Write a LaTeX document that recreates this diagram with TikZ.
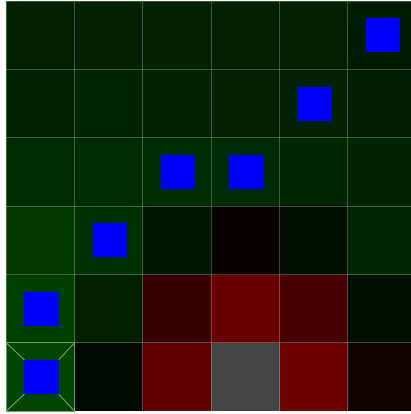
\documentclass[tikz,border=0pt]{standalone}
\tikzset{
  gridline/.style={draw=white, draw opacity=0.25, line width=1pt},
  agent/.style={fill=blue},
  selborder/.style={draw=white!70!green!60!black, line width=1pt},
}
\begin{document}
\begin{tikzpicture}[x=1pt,y=-1pt]
\useasboundingbox[fill=white] (0,0) rectangle (411,414);
\pgfmathsetmacro{\cs}{68.33}
\pgfmathsetmacro{\xo}{6.3}
\pgfmathsetmacro{\yo}{1.2}
\begin{scope}
\clip (0,0) rectangle (411,414);
\foreach \r/\c/\h in {
 0/0/002000,0/1/002200,0/2/002200,0/3/002000,0/4/002000,0/5/001C00,
 1/0/002400,1/1/002600,1/2/002400,1/3/002200,1/4/002200,1/5/001E00,
 2/0/002C00,2/1/002C00,2/2/002E00,2/3/002A00,2/4/002800,2/5/002400,
 3/0/003800,3/1/003200,3/2/001800,3/3/080000,3/4/020E02,3/5/002800,
 4/0/004000,4/1/002000,4/2/380000,4/3/680000,4/4/460000,4/5/000E00,
 5/0/004600,5/1/000800,5/2/600000,5/3/444444,5/4/6C0000,5/5/100000}{
  \definecolor{cellc}{HTML}{\h}
  \fill[cellc] ({\xo+\c*\cs},{\yo+\r*\cs}) rectangle ({\xo+(\c+1)*\cs},{\yo+(\r+1)*\cs});
}
\foreach \i in {0,...,6}{
  \draw[gridline] ({\xo+\i*\cs},{\yo}) -- ({\xo+\i*\cs},{\yo+6*\cs});
  \draw[gridline] ({\xo},{\yo+\i*\cs}) -- ({\xo+6*\cs},{\yo+\i*\cs});
}
\foreach \r/\c in {0/5,1/4,2/2,2/3,3/1,4/0,5/0}{
  \fill[agent] ({\xo+1+(\c+0.25)*\cs},{\yo+(\r+0.25)*\cs}) rectangle ({\xo+1+(\c+0.75)*\cs},{\yo+(\r+0.75)*\cs});
}
% selected cell
\coordinate (s1) at ({\xo},{\yo+5*\cs});
\coordinate (s2) at ({\xo+\cs},{\yo+5*\cs});
\coordinate (s3) at ({\xo+\cs},{\yo+6*\cs});
\coordinate (s4) at ({\xo},{\yo+6*\cs});
\coordinate (q1) at ({\xo+1+0.25*\cs},{\yo+5.25*\cs});
\coordinate (q2) at ({\xo+1+0.75*\cs},{\yo+5.25*\cs});
\coordinate (q3) at ({\xo+1+0.75*\cs},{\yo+5.75*\cs});
\coordinate (q4) at ({\xo+1+0.25*\cs},{\yo+5.75*\cs});
\draw[selborder] (s1) rectangle (s3);
\draw[selborder] (s1) -- (q1) (s2) -- (q2) (s3) -- (q3) (s4) -- (q4);
\end{scope}
\end{tikzpicture}
\end{document}
